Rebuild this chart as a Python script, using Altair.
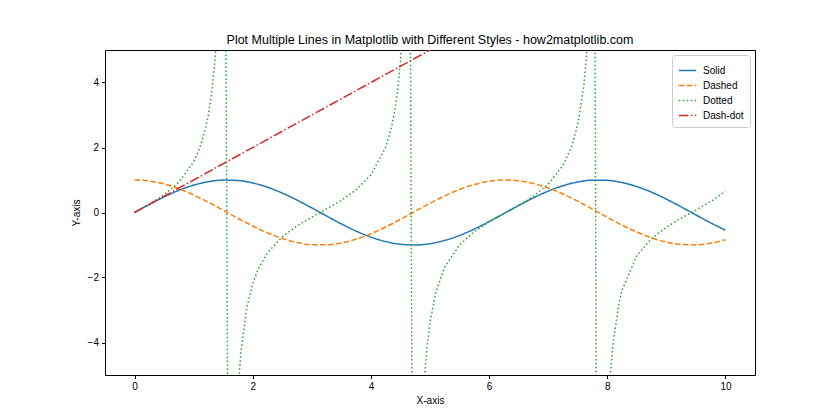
import altair as alt
import pandas as pd

# x positions and readings for the sine ("Solid") and cosine ("Dashed") curves
x_wave = [0.0, 0.25, 0.5, 0.75, 1.0, 1.25, 1.5, 1.75, 2.0, 2.25, 2.5, 2.75, 3.0, 3.25,
          3.5, 3.75, 4.0, 4.25, 4.5, 4.75, 5.0, 5.25, 5.5, 5.75, 6.0, 6.25, 6.5, 6.75,
          7.0, 7.25, 7.5, 7.75, 8.0, 8.25, 8.5, 8.75, 9.0, 9.25, 9.5, 9.75, 10.0]
solid = [0.0, 0.247, 0.479, 0.682, 0.841, 0.949, 0.997, 0.984, 0.909, 0.778, 0.598,
         0.382, 0.141, -0.108, -0.351, -0.572, -0.757, -0.895, -0.978, -0.999, -0.959,
         -0.859, -0.706, -0.510, -0.279, -0.033, 0.215, 0.451, 0.657, 0.823, 0.938,
         0.995, 0.989, 0.921, 0.798, 0.625, 0.412, 0.173, -0.075, -0.319, -0.544]
dashed = [1.0, 0.969, 0.878, 0.732, 0.540, 0.315, 0.071, -0.178, -0.416, -0.628, -0.801,
          -0.924, -0.990, -0.994, -0.936, -0.820, -0.654, -0.446, -0.211, 0.038, 0.284,
          0.512, 0.709, 0.862, 0.960, 0.999, 0.977, 0.893, 0.754, 0.568, 0.347, 0.104,
          -0.146, -0.390, -0.602, -0.779, -0.911, -0.985, -0.997, -0.946, -0.839]

# tangent-like "Dotted" curve
x_dot = [0.0, 0.25, 0.5, 0.75, 1.0, 1.1, 1.2, 1.25, 1.3, 1.35, 1.375, 1.4, 1.45, 1.5152,
         1.6162, 1.7, 1.75, 1.8, 1.9, 2.0, 2.1, 2.25, 2.5, 2.75, 3.0, 3.25, 3.5, 3.75,
         4.0, 4.25, 4.35, 4.4, 4.45, 4.5, 4.55, 4.6, 4.6465,
         4.7475, 4.8, 4.85, 4.9, 4.95, 5.0, 5.1, 5.25, 5.5, 5.75, 6.0, 6.25, 6.5, 6.75,
         7.0, 7.25, 7.4, 7.5, 7.6, 7.65, 7.7, 7.7778,
         7.8788, 7.95, 8.0, 8.05, 8.1, 8.2, 8.25, 8.5, 8.75, 9.0, 9.25, 9.5, 9.75, 10.0]
dotted = [0.0, 0.255, 0.546, 0.932, 1.557, 1.965, 2.572, 3.010, 3.602, 4.455, 5.04, 5.798,
          8.238, 17.97,
          -22.0, -7.697, -5.52, -4.286, -2.927, -2.185, -1.711, -1.238, -0.747, -0.413,
          -0.1425, 0.1086, 0.3746, 0.6978,
          1.158, 2.006, 2.638, 3.097, 3.723, 4.637, 6.10, 8.86, 15.16,
          -28.5, -11.39, -7.22, -5.27, -4.13, -3.381, -2.449, -1.678, -0.9956, -0.590,
          -0.291, -0.0332, 0.2203, 0.5048,
          0.8714, 1.449, 2.046, 2.706, 3.852, 4.83, 6.44, 13.10,
          -40.3, -10.38, -6.80, -5.04, -3.982, -2.775, -2.392, -1.327, -0.800, -0.4523,
          -0.1766, 0.0753, 0.3372, 0.6484]

# straight "Dash-dot" line
x_line = [0.0, 10.0]
dashdot = [0.0, 10.0]

series = ["Solid", "Dashed", "Dotted", "Dash-dot"]
colors = ["#1f77b4", "#ff7f0e", "#2ca02c", "#d62728"]
dashes = [[1, 0], [5.55, 2.4], [1.5, 2.475], [9.6, 2.4, 1.5, 2.4]]

rows = []
for xs, ys, name in [(x_wave, solid, "Solid"), (x_wave, dashed, "Dashed"),
                     (x_dot, dotted, "Dotted"), (x_line, dashdot, "Dash-dot")]:
    for i, (xv, yv) in enumerate(zip(xs, ys)):
        rows.append({"x": xv, "y": yv, "series": name, "order": i})
df = pd.DataFrame(rows)

FONT = "Liberation Sans"

color_scale = alt.Scale(domain=series, range=colors)
dash_scale = alt.Scale(domain=series, range=dashes)
x_scale = alt.Scale(domain=[-0.5, 10.5], nice=False, zero=False)
y_scale = alt.Scale(domain=[-5, 5], nice=False, zero=False)

legend = alt.Legend(
    title=None, orient="none", legendX=567, legendY=5,
    symbolType="stroke", symbolSize=300, symbolStrokeWidth=1.5,
    labelFontSize=10, labelFont=FONT, labelColor="black",
    padding=6, rowPadding=0, fillColor="white", strokeColor="#cccccc",
    cornerRadius=3, labelOffset=6,
)

axis_common = dict(grid=False, tickColor="black", domainColor="black", labelColor="black",
                   labelFontSize=10, titleFontSize=10, titleFontWeight="normal",
                   labelFont=FONT, titleFont=FONT, titleColor="black",
                   tickSize=3.5, labelPadding=3)

def layer(names, interp):
    return alt.Chart(df).transform_filter(
        alt.FieldOneOfPredicate(field="series", oneOf=names)
    ).mark_line(clip=True, strokeWidth=1.5, interpolate=interp).encode(
        x=alt.X("x:Q", scale=x_scale,
                axis=alt.Axis(title="X-axis", values=[0, 2, 4, 6, 8, 10],
                              titlePadding=4, **axis_common)),
        y=alt.Y("y:Q", scale=y_scale,
                axis=alt.Axis(title="Y-axis", values=[-4, -2, 0, 2, 4],
                              titlePadding=6, **axis_common)),
        color=alt.Color("series:N", scale=color_scale, legend=legend, sort=series),
        strokeDash=alt.StrokeDash("series:N", scale=dash_scale, legend=legend, sort=series),
        order="order:Q",
        detail="series:N",
    )

lines = alt.layer(
    layer(["Solid", "Dashed"], "monotone"),
    layer(["Dotted", "Dash-dot"], "linear"),
)

frame = alt.Chart(df).mark_point(opacity=0, clip=True).encode(
    x=alt.X("x:Q", scale=x_scale,
            axis=alt.Axis(orient="top", title=None, labels=False, ticks=False,
                          grid=False, domainColor="black")),
    y=alt.Y("y:Q", scale=y_scale,
            axis=alt.Axis(orient="right", title=None, labels=False, ticks=False,
                          grid=False, domainColor="black")),
)

chart = alt.layer(lines, frame).resolve_axis(
    x="independent", y="independent"
).properties(
    width=650, height=325,
    title=alt.TitleParams(
        "Plot Multiple Lines in Matplotlib with Different Styles - how2matplotlib.com",
        fontSize=12.5, fontWeight="normal", font=FONT, color="black", offset=4,
        anchor="middle", frame="group"),
    autosize=alt.AutoSizeParams(type="none"),
    padding={"left": 97, "top": 42, "right": 77, "bottom": 37},
).configure_view(stroke=None).configure(background="white")

chart.save("out.html", embed_options={"renderer": "svg", "actions": False})
